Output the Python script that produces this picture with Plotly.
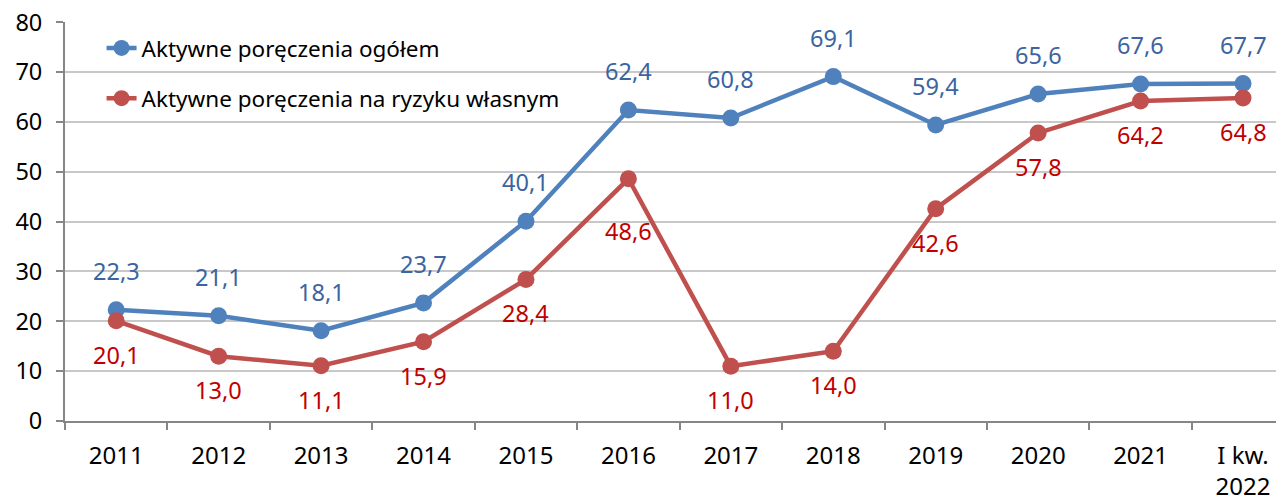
import plotly.graph_objects as go

categories = ["2011", "2012", "2013", "2014", "2015", "2016", "2017", "2018", "2019", "2020", "2021", "I kw.<br>2022"]
ogolem = [22.3, 21.1, 18.1, 23.7, 40.1, 62.4, 60.8, 69.1, 59.4, 65.6, 67.6, 67.7]
wlasne = [20.1, 13.0, 11.1, 15.9, 28.4, 48.6, 11.0, 14.0, 42.6, 57.8, 64.2, 64.8]
names = ["Aktywne poręczenia ogółem", "Aktywne poręczenia na ryzyku własnym"]

FONT = "Noto Sans"
BLUE, RED = "#4F81BD", "#C0504D"
BLUE_TXT, RED_TXT = "#3C64A0", "#C00000"

fig = go.Figure()
fig.add_trace(go.Scatter(x=categories, y=ogolem, name=names[0], mode="lines+markers",
                         legendgroup="a",
                         line=dict(color=BLUE, width=4.5), marker=dict(size=17, color=BLUE)))
fig.add_trace(go.Scatter(x=categories, y=wlasne, name=names[1], mode="lines+markers",
                         legendgroup="b",
                         line=dict(color=RED, width=4.5), marker=dict(size=17, color=RED)))

def fmt(v):
    return f"{v:.1f}".replace(".", ",")

for i, v in enumerate(ogolem):
    fig.add_annotation(x=i, y=v, xref="x", yref="y", text=fmt(v), showarrow=False, yshift=39,
                       font=dict(family=FONT, size=23.5, color=BLUE_TXT))
for i, v in enumerate(wlasne):
    shift = -52 if i == 5 else -34
    fig.add_annotation(x=i, y=v, xref="x", yref="y", text=fmt(v), showarrow=False, yshift=shift,
                       font=dict(family=FONT, size=23.5, color=RED_TXT))

# page body has an 8px margin; compensate so the plot lands where the reference has it
fig.update_layout(
    width=1276, height=489,
    margin=dict(l=57, r=0, t=14, b=76),
    paper_bgcolor="white", plot_bgcolor="white",
    font=dict(family=FONT, size=24, color="black"),
    showlegend=True,
    legend=dict(x=0.03, y=0.988, xanchor="left", yanchor="top", bgcolor="rgba(0,0,0,0)",
                font=dict(family=FONT, size=22.5, color="black"), tracegroupgap=18),
    xaxis=dict(type="category", range=[-0.5, 11.4], showgrid=False, automargin=False,
               showline=True, linecolor="#868686", linewidth=2,
               ticks="outside", tickson="boundaries", ticklen=7, tickcolor="#868686", tickwidth=2,
               ticklabelstandoff=12, ticklabeloverflow="allow",
               tickfont=dict(family=FONT, size=24, color="black")),
    yaxis=dict(range=[0, 80.06], tick0=0, dtick=10, showgrid=True, gridcolor="#C8C8C8", gridwidth=2,
               automargin=False,
               showline=True, linecolor="#868686", linewidth=2, zeroline=False,
               ticks="outside", ticklen=7, tickcolor="#868686", tickwidth=2,
               ticklabelstandoff=9, ticklabeloverflow="allow",
               tickfont=dict(family=FONT, size=23.5, color="black")),
)

fig.write_html("out.html")
